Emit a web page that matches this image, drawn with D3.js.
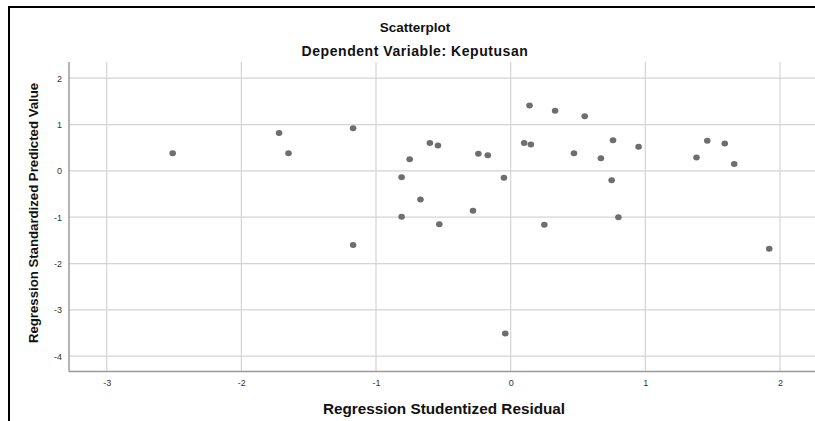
<!DOCTYPE html>
<html>
<head>
<meta charset="utf-8">
<script src="https://cdn.jsdelivr.net/npm/d3@7"></script>
<style>
  html, body { margin: 0; padding: 0; background: #fff; }
  svg { display: block; font-family: Arial, "Liberation Sans", sans-serif; }
</style>
</head>
<body>
<svg id="chart" width="815" height="421"></svg>
<script>
// ---- data ----
const title = "Scatterplot";
const subtitle = "Dependent Variable: Keputusan";
const xLabel = "Regression Studentized Residual";
const yLabel = "Regression Standardized Predicted Value";
const xTicks = [-3, -2, -1, 0, 1, 2];
const yTicks = [2, 1, 0, -1, -2, -3, -4];
const residual = [
  -2.51, -1.72, -1.65, -1.17, -1.17,
  0.14, 0.33, 0.55, -0.60, -0.54, -0.75, -0.24, -0.17, 0.10, 0.15, 0.47,
  -0.81, -0.05, -0.67, -0.81, -0.53, -0.28, 0.25,
  0.76, 0.95, 0.67, 0.75, 0.80, 1.46, 1.59, 1.38, 1.66, 1.92,
  -0.04
];
const predicted = [
  0.38, 0.82, 0.38, 0.92, -1.60,
  1.41, 1.30, 1.18, 0.60, 0.55, 0.25, 0.37, 0.34, 0.60, 0.57, 0.38,
  -0.14, -0.15, -0.62, -0.99, -1.15, -0.86, -1.16,
  0.66, 0.52, 0.27, -0.20, -1.00, 0.65, 0.59, 0.29, 0.15, -1.68,
  -3.51
];

// ---- layout ----
const svg = d3.select("#chart");
const W = 815, H = 421;
const plot = { left: 69, right: 815, top: 62, bottom: 371.5 };

const x = d3.scaleLinear().domain([-3.28, 2.26]).range([plot.left, plot.right]);
const y = d3.scaleLinear().domain([-4.33, 2.35]).range([plot.bottom, plot.top]);

// outer frame (left and top black edges)
svg.append("line").attr("x1", 9).attr("x2", 9).attr("y1", 6).attr("y2", H)
  .attr("stroke", "#000").attr("stroke-width", 2);
svg.append("line").attr("x1", 8).attr("x2", W).attr("y1", 7).attr("y2", 7)
  .attr("stroke", "#000").attr("stroke-width", 2);

// titles
svg.append("text").attr("x", 415).attr("y", 32).attr("text-anchor", "middle")
  .attr("font-size", 13.5).attr("font-weight", "bold").attr("fill", "#111").text(title);
svg.append("text").attr("x", 415).attr("y", 56).attr("text-anchor", "middle")
  .attr("font-size", 14).attr("letter-spacing", 0.55)
  .attr("font-weight", "bold").attr("fill", "#111").text(subtitle);

// gridlines
const g = svg.append("g");
g.selectAll(".vg").data(xTicks).enter().append("line")
  .attr("x1", d => x(d)).attr("x2", d => x(d))
  .attr("y1", plot.top).attr("y2", plot.bottom)
  .attr("stroke", "#d4d4d4").attr("stroke-width", 1.2);
g.selectAll(".hg").data(yTicks).enter().append("line")
  .attr("x1", plot.left).attr("x2", plot.right)
  .attr("y1", d => y(d)).attr("y2", d => y(d))
  .attr("stroke", "#d4d4d4").attr("stroke-width", 1.2);

// axes
const fmt = d => String(d);
const xAxis = d3.axisBottom(x).tickValues(xTicks).tickSize(0).tickPadding(8).tickFormat(fmt);
const yAxis = d3.axisLeft(y).tickValues(yTicks).tickSize(0).tickPadding(7).tickFormat(fmt);

const xg = svg.append("g").attr("transform", `translate(0,${plot.bottom})`).call(xAxis);
const yg = svg.append("g").attr("transform", `translate(${plot.left},0)`).call(yAxis);
[xg, yg].forEach(a => {
  a.select(".domain").attr("stroke", "#9a9a9a").attr("stroke-width", 1.5);
  a.selectAll("text").attr("font-size", 9).attr("fill", "#333")
    .attr("font-family", "Arial, 'Liberation Sans', sans-serif");
});
xg.select(".domain").attr("d", `M${plot.left},0H${plot.right}`);
yg.select(".domain").attr("d", `M0,${plot.top}V${plot.bottom}`);

// axis titles
svg.append("text").attr("x", 444).attr("y", 414).attr("text-anchor", "middle")
  .attr("font-size", 15.3).attr("font-weight", "bold").attr("fill", "#111").text(xLabel);
svg.append("text").attr("transform", `translate(38,213) rotate(-90)`)
  .attr("text-anchor", "middle")
  .attr("font-size", 13.2).attr("font-weight", "bold").attr("fill", "#111").text(yLabel);

// points
svg.append("g").selectAll("ellipse").data(residual.map((r, i) => [r, predicted[i]]))
  .enter().append("ellipse")
  .attr("cx", d => x(d[0])).attr("cy", d => y(d[1]))
  .attr("rx", 3.3).attr("ry", 3)
  .attr("fill", "#6e6e6e");
</script>
</body>
</html>
